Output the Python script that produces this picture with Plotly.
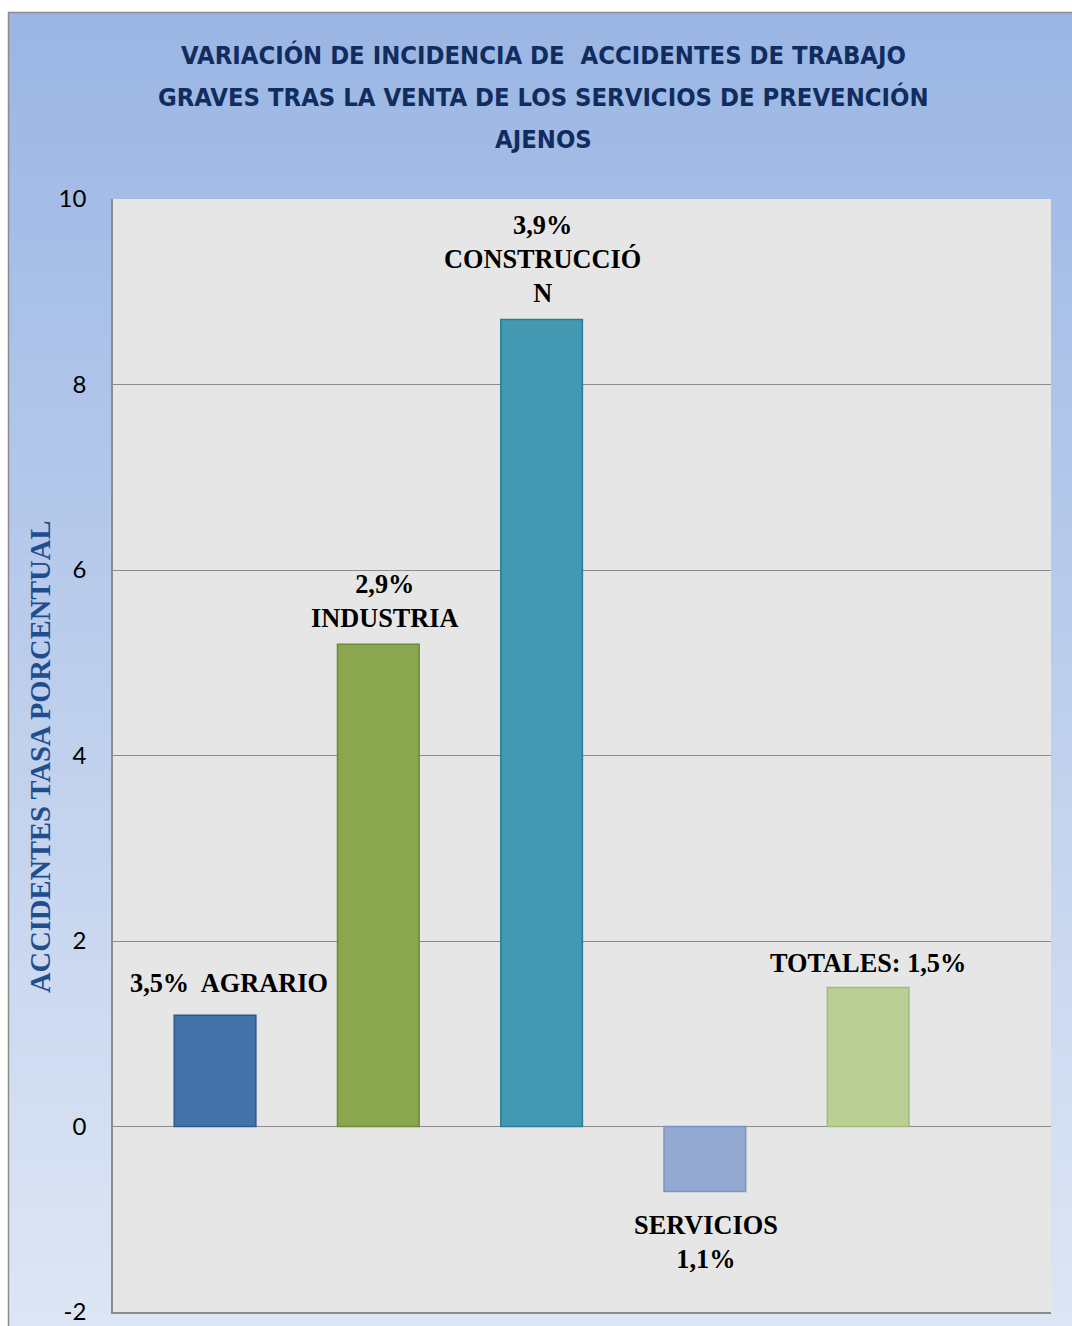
import plotly.graph_objects as go

# ---------------- data ----------------
categories = ["AGRARIO", "INDUSTRIA", "CONSTRUCCIÓN", "SERVICIOS", "TOTALES"]
values = [1.2, 5.2, 8.7, -0.7, 1.5]
labels = ["3,5%  AGRARIO", "2,9%<br>INDUSTRIA", "3,9%<br>CONSTRUCCIÓ<br>N",
          "SERVICIOS<br>1,1%", "TOTALES: 1,5%"]
y_ticks = [-2, 0, 2, 4, 6, 8, 10]
title_lines = ["VARIACIÓN DE INCIDENCIA DE  ACCIDENTES DE TRABAJO",
               "GRAVES TRAS LA VENTA DE LOS SERVICIOS DE PREVENCIÓN",
               "AJENOS"]
axis_title = "ACCIDENTES TASA PORCENTUAL"

# ---------------- style ----------------
bar_colors = ["#4472a8", "#8aa64e", "#4399b1", "#94a9d1", "#b9cf94"]
edge_colors = ["#2f578a", "#6c8a38", "#2f7d93", "#7b93c2", "#a0bb7c"]
label_xshift = [14, 7, 1, 1, 0]
label_yshift = [15, 9, 10, -18, 7]

W, H = 1072, 1326
L, R, T, B = 113, 1051, 199, 1312


def px_x(p):
    return (p - L) / (R - L)


def px_y(p):
    return (B - p) / (B - T)


fig = go.Figure()
fig.add_trace(go.Bar(
    x=categories, y=values, width=0.5,
    marker=dict(color=bar_colors, line=dict(color=edge_colors, width=1.5)),
    showlegend=False, hoverinfo="skip",
))

shapes = []
# gradient background strips
top_rgb = (155, 182, 228)
bot_rgb = (222, 230, 244)
n = 110
y0p, y1p = 12, 1340
for i in range(n):
    a = y0p + (y1p - y0p) * i / n
    b = y0p + (y1p - y0p) * (i + 1) / n + 1
    t = i / (n - 1)
    c = tuple(round(top_rgb[k] + (bot_rgb[k] - top_rgb[k]) * t) for k in range(3))
    shapes.append(dict(type="rect", xref="paper", yref="paper", layer="below",
                       x0=px_x(8), x1=px_x(1090), y0=px_y(a), y1=px_y(b),
                       fillcolor="rgb(%d,%d,%d)" % c, line=dict(width=0)))
# frame border
shapes.append(dict(type="rect", xref="paper", yref="paper", layer="below",
                   x0=px_x(8.5), x1=px_x(1090), y0=px_y(12.5), y1=px_y(1345),
                   fillcolor="rgba(0,0,0,0)", line=dict(color="#8c8c8c", width=1.5)))
# plot area
shapes.append(dict(type="rect", xref="paper", yref="paper", layer="below",
                   x0=0, x1=1, y0=0, y1=1, fillcolor="#e6e6e6", line=dict(width=0)))

annotations = []
title_y = [55, 97, 139]
for line, yy in zip(title_lines, title_y):
    annotations.append(dict(text="<b>" + line + "</b>", xref="paper", yref="paper",
                            x=px_x(543), y=px_y(yy), xanchor="center", yanchor="middle",
                            showarrow=False,
                            font=dict(family="DejaVu Sans Condensed", size=25.4, color="#112c5e")))
annotations.append(dict(text="<b>" + axis_title + "</b>", xref="paper", yref="paper",
                        x=px_x(40), y=px_y(757), xanchor="center", yanchor="middle",
                        textangle=-90, showarrow=False,
                        font=dict(family="Liberation Serif", size=28.5, color="#1f4e8f")))
for cat, v, lab, xs, ys in zip(categories, values, labels, label_xshift, label_yshift):
    annotations.append(dict(text="<b>" + lab + "</b>", x=cat, y=v, xref="x", yref="y",
                            xanchor="center", yanchor="bottom" if v >= 0 else "top",
                            xshift=xs, yshift=ys, showarrow=False,
                            font=dict(family="Liberation Serif", size=26.3, color="#000000")))

fig.update_layout(
    width=W, height=H,
    margin=dict(l=L, r=W - R, t=T, b=H - B, pad=0),
    paper_bgcolor="white", plot_bgcolor="rgba(0,0,0,0)",
    shapes=shapes, annotations=annotations,
    bargap=0.5,
)
fig.update_xaxes(range=[-0.625, 5.12], showticklabels=False, showgrid=False,
                 showline=True, linecolor="#8c8c8c", linewidth=1.5, ticks="",
                 zeroline=False, automargin=False)
fig.update_yaxes(range=[-2, 10], tickvals=y_ticks, ticktext=[str(v) for v in y_ticks],
                 showgrid=True, gridcolor="#8c8c8c",
                 gridwidth=1.3, zeroline=True, zerolinecolor="#8c8c8c", zerolinewidth=1.3,
                 showline=True, linecolor="#8c8c8c", linewidth=1.5, ticks="outside",
                 ticklen=0, ticklabelstandoff=20, automargin=False,
                 tickfont=dict(family="Lato", size=24, color="#000000"))

fig.write_html("out.html")
